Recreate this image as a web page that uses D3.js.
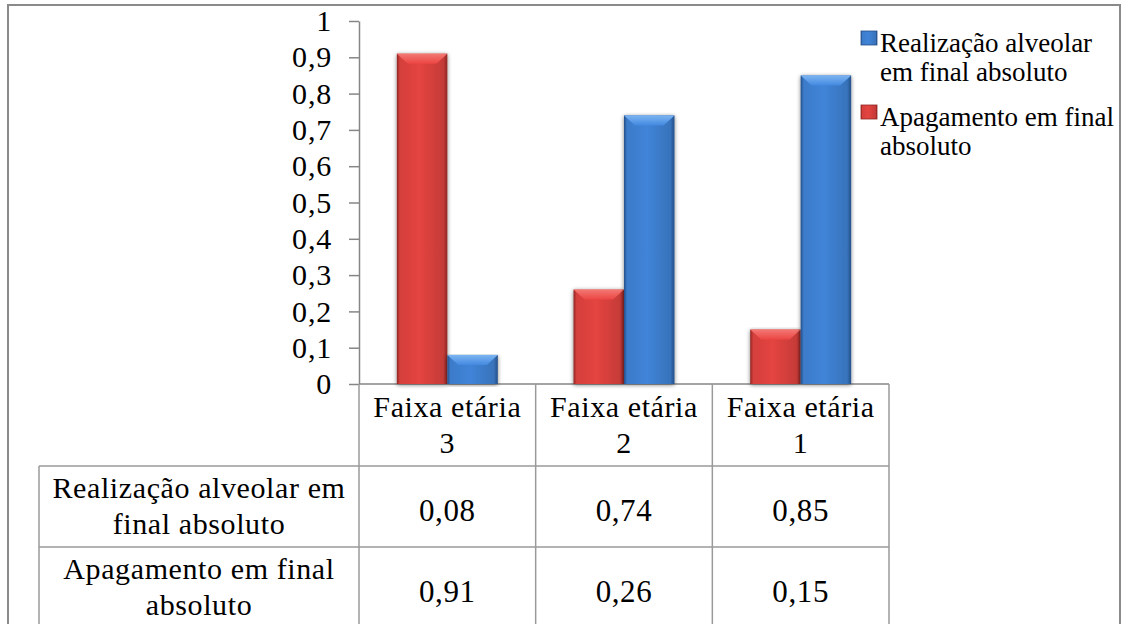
<!DOCTYPE html>
<html>
<head>
<meta charset="utf-8">
<script src="https://cdn.jsdelivr.net/npm/d3@7"></script>
<style>
  body { margin: 0; background: #fff; }
  svg { display: block; }
</style>
</head>
<body>
<svg id="chart"></svg>
<script>
const width = 1125;
const height = 624;
const serif = "Liberation Serif, Times New Roman, DejaVu Serif, serif";

// data
const categories = ["Faixa etária 3", "Faixa etária 2", "Faixa etária 1"];
const categoryLines = [["Faixa etária", "3"], ["Faixa etária", "2"], ["Faixa etária", "1"]];
const seriesNames = ["Realização alveolar em final absoluto", "Apagamento em final absoluto"];
const realizacao = [0.08, 0.74, 0.85];
const apagamento = [0.91, 0.26, 0.15];
const yTicks = [0, 0.1, 0.2, 0.3, 0.4, 0.5, 0.6, 0.7, 0.8, 0.9, 1];
const legendLines = [["Realização alveolar", "em final absoluto"], ["Apagamento em final", "absoluto"]];
const rowLabelLines = [["Realização alveolar em", "final absoluto"], ["Apagamento em final", "absoluto"]];

const plot = { left: 359, right: 889, top: 21, bottom: 384 };
const tableLeft = 39;
const headerBottom = 466;
const rowStep = 81;

const colors = {
    red: { base: "#d43f3c", dark: "#8f2624", light: "#f27874" },
    blue: { base: "#3c7bc9", dark: "#244f88", light: "#7cb4f2" }
};
const lineColor = "#9a9a9a";
const fmt = d => String(d).replace(".", ",");

const svg = d3.select("#chart")
    .attr("width", width)
    .attr("height", height)
    .attr("viewBox", [0, 0, width, height]);

const defs = svg.append("defs");

// shadow for the bevelled bars
const shadow = defs.append("filter").attr("id", "shadow")
    .attr("x", "-20%").attr("y", "-5%").attr("width", "140%").attr("height", "115%");
shadow.append("feGaussianBlur").attr("in", "SourceAlpha").attr("stdDeviation", 2).attr("result", "blur");
shadow.append("feOffset").attr("in", "blur").attr("dx", 0).attr("dy", 1).attr("result", "off");
shadow.append("feComponentTransfer").attr("in", "off").attr("result", "soft")
    .append("feFuncA").attr("type", "linear").attr("slope", 0.5);
const merge = shadow.append("feMerge");
merge.append("feMergeNode").attr("in", "soft");
merge.append("feMergeNode").attr("in", "SourceGraphic");

Object.entries(colors).forEach(([name, c]) => {
    const g = defs.append("linearGradient").attr("id", "body-" + name)
        .attr("x1", 0).attr("x2", 1).attr("y1", 0).attr("y2", 0);
    g.append("stop").attr("offset", "0%").attr("stop-color", c.dark);
    g.append("stop").attr("offset", "6%").attr("stop-color", c.base);
    g.append("stop").attr("offset", "45%").attr("stop-color", d3.color(c.base).brighter(0.2));
    g.append("stop").attr("offset", "92%").attr("stop-color", d3.color(c.base).darker(0.2));
    g.append("stop").attr("offset", "100%").attr("stop-color", c.dark);

    const t = defs.append("linearGradient").attr("id", "top-" + name)
        .attr("x1", 0).attr("x2", 0).attr("y1", 0).attr("y2", 1);
    t.append("stop").attr("offset", "0%").attr("stop-color", c.light);
    t.append("stop").attr("offset", "100%").attr("stop-color", d3.color(c.base).brighter(0.3));
});

// outer frame
svg.append("rect")
    .attr("x", 8).attr("y", 5)
    .attr("width", 1112).attr("height", 660)
    .attr("fill", "none")
    .attr("stroke", "#8a8a8a")
    .attr("stroke-width", 2);

const xScale = d3.scaleBand()
    .domain(categories)
    .range([plot.left, plot.right]);

// gap width 150% like the original
const xSub = d3.scaleBand()
    .domain(["apagamento", "realizacao"])
    .range([0, xScale.bandwidth()])
    .paddingInner(0)
    .paddingOuter(0.75);

const yScale = d3.scaleLinear()
    .domain([0, 1])
    .range([plot.bottom, plot.top]);

// Y axis
svg.append("g")
    .attr("transform", `translate(${plot.left},0)`)
    .call(d3.axisLeft(yScale).tickValues(yTicks).tickFormat(fmt).tickSize(10).tickSizeOuter(0).tickPadding(17))
    .attr("font-family", serif)
    .attr("font-size", 30)
    .call(g => g.selectAll("path, line").attr("stroke", "#868686").attr("stroke-width", 1.5))
    .call(g => g.selectAll("text").attr("fill", "#000").attr("letter-spacing", "0.8px"));

// zero line
svg.append("line")
    .attr("x1", plot.left).attr("x2", plot.right)
    .attr("y1", yScale(0)).attr("y2", yScale(0))
    .attr("stroke", "#868686").attr("stroke-width", 1.5);

// bars
const barData = [];
categories.forEach((c, i) => {
    barData.push({ cat: c, key: "apagamento", value: apagamento[i], color: "red" });
    barData.push({ cat: c, key: "realizacao", value: realizacao[i], color: "blue" });
});

const bars = svg.append("g")
    .selectAll("g.bar")
    .data(barData)
    .join("g")
    .attr("class", "bar")
    .attr("filter", "url(#shadow)");

bars.append("rect")
    .attr("x", d => xScale(d.cat) + xSub(d.key))
    .attr("y", d => yScale(d.value))
    .attr("width", xSub.bandwidth())
    .attr("height", d => yScale(0) - yScale(d.value))
    .attr("fill", d => `url(#body-${d.color})`);

bars.append("path")
    .attr("d", d => {
        const x0 = xScale(d.cat) + xSub(d.key);
        const x1 = x0 + xSub.bandwidth();
        const y0 = yScale(d.value);
        const b = Math.min(10, (yScale(0) - y0) / 2);
        return `M${x0},${y0}L${x1},${y0}L${x1 - 11},${y0 + b}L${x0 + 11},${y0 + b}Z`;
    })
    .attr("fill", d => `url(#top-${d.color})`);

// legend
const legendData = [
    { lines: legendLines[0], color: "blue", y: 31 },
    { lines: legendLines[1], color: "red", y: 105 }
];
const legend = svg.append("g")
    .attr("font-family", serif)
    .selectAll("g").data(legendData).join("g");
legend.append("rect")
    .attr("x", 861).attr("y", d => d.y)
    .attr("width", 16).attr("height", 14)
    .attr("fill", d => `url(#body-${d.color})`)
    .attr("stroke", d => colors[d.color].dark)
    .attr("stroke-width", 0.8);
legend.append("text")
    .attr("x", 880)
    .attr("font-family", serif)
    .attr("font-size", 27)
    .selectAll("tspan")
    .data(d => d.lines.map((l, i) => ({ l, y: d.y + 21 + i * 29 })))
    .join("tspan")
    .attr("x", 880)
    .attr("y", d => d.y)
    .text(d => d.l);

// data table
const table = svg.append("g")
    .attr("stroke", lineColor)
    .attr("stroke-width", 1.5);

const rowScale = d3.scaleBand()
    .domain(seriesNames)
    .range([headerBottom, headerBottom + rowStep * seriesNames.length]);

// horizontal lines
rowScale.domain().forEach(r => {
    table.append("line")
        .attr("x1", tableLeft).attr("x2", plot.right)
        .attr("y1", rowScale(r)).attr("y2", rowScale(r));
});
table.append("line")
    .attr("x1", tableLeft).attr("x2", plot.right)
    .attr("y1", rowScale.range()[1]).attr("y2", rowScale.range()[1]);

// vertical lines
table.append("line")
    .attr("x1", tableLeft).attr("x2", tableLeft)
    .attr("y1", headerBottom).attr("y2", rowScale.range()[1]);
xScale.domain().concat(["end"]).forEach((c, i) => {
    const x = i < categories.length ? xScale(c) : plot.right;
    table.append("line")
        .attr("x1", x).attr("x2", x)
        .attr("y1", yScale(0)).attr("y2", rowScale.range()[1]);
});

const multiLine = (sel, lines, cx, cy) => {
    const t = sel.append("text")
        .attr("text-anchor", "middle")
        .attr("font-family", serif)
        .attr("font-size", 30)
        .attr("letter-spacing", "0.6px");
    lines.forEach((l, i) => {
        t.append("tspan")
            .attr("x", cx)
            .attr("y", cy + 9 + (i - (lines.length - 1) / 2) * 36)
            .text(l);
    });
};

const texts = svg.append("g").attr("fill", "#000").attr("font-family", serif);

// header row
categories.forEach((c, i) => {
    multiLine(texts, categoryLines[i], xScale(c) + xScale.bandwidth() / 2, (yScale(0) + headerBottom) / 2 + 1);
});

// rows
const rowValues = [realizacao, apagamento];
seriesNames.forEach((s, r) => {
    const cy = rowScale(s) + rowScale.bandwidth() / 2;
    multiLine(texts, rowLabelLines[r], (tableLeft + plot.left) / 2, cy);
    categories.forEach((c, i) => {
        texts.append("text")
            .attr("x", xScale(c) + xScale.bandwidth() / 2)
            .attr("y", cy + 14.5)
            .attr("text-anchor", "middle")
            .attr("font-family", serif)
            .attr("font-size", 31)
            .attr("letter-spacing", "0.6px")
            .text(fmt(rowValues[r][i]));
    });
});
</script>
</body>
</html>
